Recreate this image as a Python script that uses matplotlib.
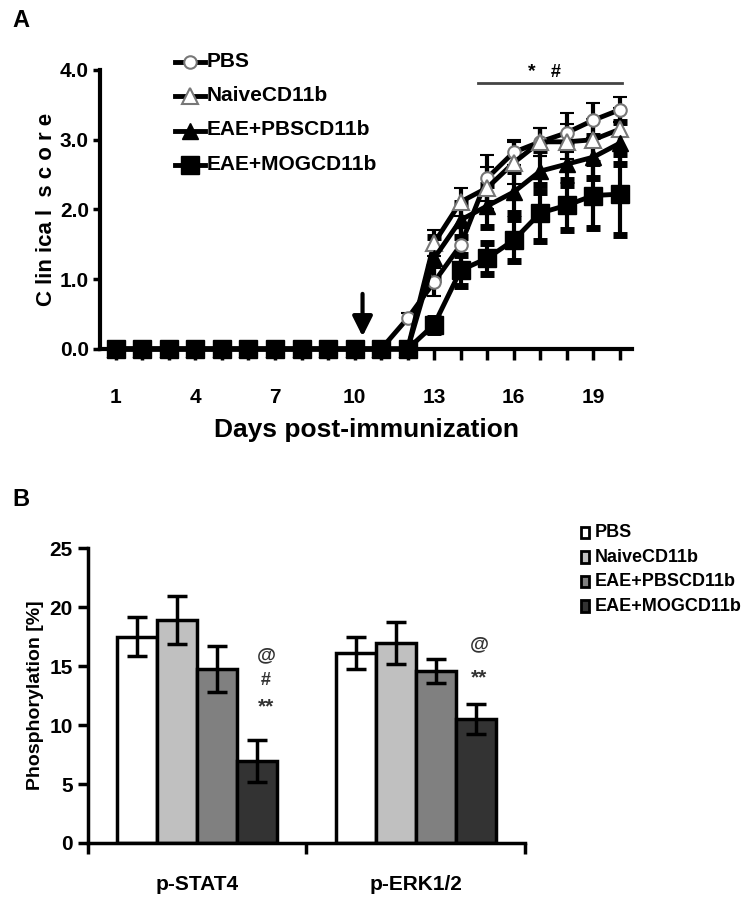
import numpy as np
import matplotlib
matplotlib.use("Agg")
import matplotlib.pyplot as plt
from matplotlib.lines import Line2D
from matplotlib.patches import Patch

ARIAL = ["Liberation Sans", "DejaVu Sans"]

# Panel A: clinical score by day
days = np.arange(1, 21)
pbs = [0] * 11 + [0.44, 0.96, 1.49, 2.45, 2.82, 2.97, 3.10, 3.28, 3.43]
pbs_err = [0] * 11 + [0.08, 0.2, 0.25, 0.33, 0.18, 0.2, 0.28, 0.25, 0.18]
naive = [0] * 12 + [1.52, 2.11, 2.31, 2.67, 2.97, 2.97, 3.0, 3.15]
naive_err = [0] * 12 + [0.18, 0.2, 0.3, 0.3, 0.2, 0.25, 0.3, 0.3]
eae_pbs = [0] * 12 + [1.3, 1.85, 2.05, 2.25, 2.55, 2.65, 2.75, 2.95]
eae_pbs_err = [0] * 12 + [0.3, 0.25, 0.3, 0.3, 0.3, 0.3, 0.3, 0.3]
eae_mog = [0] * 12 + [0.35, 1.13, 1.3, 1.56, 1.95, 2.06, 2.2, 2.22]
eae_mog_err = [0] * 12 + [0.1, 0.22, 0.22, 0.3, 0.4, 0.36, 0.47, 0.58]
line_labels = ["PBS", "NaiveCD11b", "EAE+PBSCD11b", "EAE+MOGCD11b"]

# Panel B: phosphorylation
proteins = ["p-STAT4", "p-ERK1/2"]
bar_labels = ["PBS", "NaiveCD11b", "EAE+PBSCD11b", "EAE+MOGCD11b"]
bar_vals = [[17.5, 16.1], [18.9, 16.95], [14.75, 14.6], [6.95, 10.5]]
bar_errs = [[1.65, 1.35], [2.0, 1.8], [1.95, 1.0], [1.8, 1.25]]
bar_colors = ["white", "#c0c0c0", "#808080", "#333333"]


def bold(t, size):
    t.set_fontfamily(ARIAL)
    t.set_fontweight("bold")
    t.set_fontsize(size)


fig = plt.figure(figsize=(7.5, 9.16), dpi=100)

# ---------------- Panel A ----------------
ax = fig.add_axes([0.1333, 0.619, 0.7097, 0.3046])
series = [
    (pbs, pbs_err, dict(marker="o", mfc="white", mec="#777777", ms=9, mew=1.5)),
    (naive, naive_err, dict(marker="^", mfc="white", mec="#777777", ms=11, mew=1.5)),
    (eae_pbs, eae_pbs_err, dict(marker="^", mfc="black", mec="black", ms=11)),
    (eae_mog, eae_mog_err, dict(marker="s", mfc="black", mec="black", ms=13)),
]
handles = []
for (vals, errs, mk), lab in zip(series, line_labels):
    ax.errorbar(days, vals, yerr=errs, color="black", lw=3.5, elinewidth=3,
                capsize=5, capthick=5, clip_on=False, zorder=3, **mk)
    handles.append(Line2D([], [], color="black", lw=3.5, **mk))

ax.set_xlim(0.4, 20.47)
ax.set_ylim(0, 4.0)
for s in ["top", "right"]:
    ax.spines[s].set_visible(False)
for s in ["left", "bottom"]:
    ax.spines[s].set_linewidth(3)
ax.set_xticks(days)
ax.set_xticklabels([str(d) if (d - 1) % 3 == 0 else "" for d in days])
ax.set_yticks([0, 1, 2, 3, 4])
ax.set_yticklabels(["0.0", "1.0", "2.0", "3.0", "4.0"])
ax.tick_params(axis="x", length=8, width=2.5, pad=20)
ax.tick_params(axis="y", length=5, width=2.5, pad=3)
for t in ax.get_xticklabels() + ax.get_yticklabels():
    bold(t, 15)
ax.set_xlabel("Days post-immunization", labelpad=8)
bold(ax.xaxis.label, 19)
ax.set_ylabel("C lin ica l  s c o r e")
bold(ax.yaxis.label, 16)
ax.yaxis.set_label_coords(-0.08, 0.5)

# arrow at day of transfer
ax.annotate("", xy=(10.3, 0.14), xytext=(10.3, 0.83),
            arrowprops=dict(arrowstyle="-|>,head_width=0.6,head_length=1.2",
                            color="black", lw=3))
# significance bar
ax.plot([14.66, 20.1], [3.81, 3.81], color="#444444", lw=2, clip_on=False)
ax.text(16.7, 3.97, "*", ha="center", va="center", fontsize=14,
        fontweight="bold", family=ARIAL)
ax.text(17.6, 3.97, "#", ha="center", va="center", fontsize=13,
        fontweight="bold", family=ARIAL)

leg = ax.legend(handles, line_labels, loc="upper left",
                bbox_to_anchor=(0.13, 1.085), frameon=False, handlelength=2.2,
                handletextpad=0.1, labelspacing=1.1, borderaxespad=0)
for t in leg.get_texts():
    bold(t, 15)

# ---------------- Panel B ----------------
bx = fig.add_axes([0.1173, 0.0797, 0.5827, 0.322])
width = 0.183
centers = np.array([0.5, 1.5])
for i in range(4):
    pos = centers + (i - 1.5) * width
    bx.bar(pos, bar_vals[i], width=width, color=bar_colors[i],
           edgecolor="black", linewidth=2.5, label=bar_labels[i], zorder=2)
    bx.errorbar(pos, bar_vals[i], yerr=bar_errs[i], fmt="none",
                ecolor="black", elinewidth=2.5, capsize=7, capthick=2.5,
                zorder=3)

bx.set_xlim(0, 2)
bx.set_ylim(0, 25)
for s in ["top", "right"]:
    bx.spines[s].set_visible(False)
for s in ["left", "bottom"]:
    bx.spines[s].set_linewidth(2.5)
bx.set_xticks([0, 1, 2])
bx.set_xticklabels(["", "", ""])
bx.set_xticks(centers, minor=True)
bx.set_xticklabels(proteins, minor=True)
bx.tick_params(axis="x", which="major", length=8, width=2.5)
bx.tick_params(axis="x", which="minor", length=0, pad=23)
bx.set_yticks([0, 5, 10, 15, 20, 25])
bx.tick_params(axis="y", length=7, width=2.5, pad=4)
for t in bx.get_xticklabels(minor=True):
    bold(t, 15)
for t in bx.get_yticklabels():
    bold(t, 15)
bx.set_ylabel("Phosphorylation [%]", labelpad=4)
bold(bx.yaxis.label, 14)

# significance marks
bx.text(0.815, 15.9, "@", ha="center", va="center", fontsize=14,
        fontweight="bold", color="#333333", family=ARIAL)
bx.text(0.815, 13.8, "#", ha="center", va="center", fontsize=13,
        fontweight="bold", color="#333333", family=ARIAL)
bx.text(0.815, 11.5, "**", ha="center", va="center", fontsize=15,
        fontweight="bold", color="#333333", family=ARIAL)
bx.text(1.79, 16.8, "@", ha="center", va="center", fontsize=14,
        fontweight="bold", color="#333333", family=ARIAL)
bx.text(1.79, 14.0, "**", ha="center", va="center", fontsize=15,
        fontweight="bold", color="#333333", family=ARIAL)

patches = [Patch(facecolor=c, edgecolor="black", linewidth=2) for c in bar_colors]
leg2 = bx.legend(patches, bar_labels, loc="upper left",
                 bbox_to_anchor=(1.115, 1.1), frameon=False, handlelength=0.6,
                 handleheight=0.9, handletextpad=0.4, labelspacing=0.55,
                 borderaxespad=0)
for t in leg2.get_texts():
    bold(t, 13)

fig.text(0.017, 0.978, "A", fontsize=17, fontweight="bold", family=ARIAL,
         va="center")
fig.text(0.017, 0.455, "B", fontsize=17, fontweight="bold", family=ARIAL,
         va="center")

fig.savefig("out.png", dpi=100)
